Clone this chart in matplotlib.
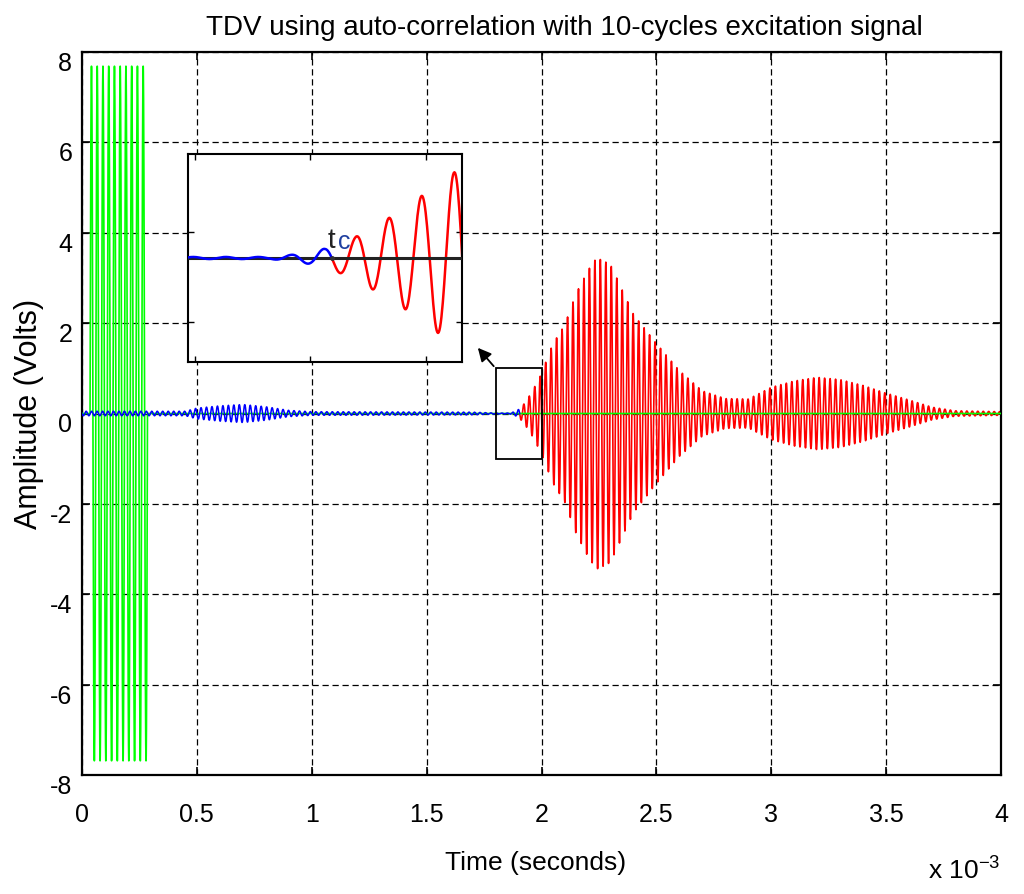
import numpy as np
import matplotlib.pyplot as plt
from matplotlib.patches import Rectangle

plt.rcParams['font.family'] = ['Liberation Sans', 'DejaVu Sans']
plt.rcParams['mathtext.fontset'] = 'custom'
plt.rcParams['mathtext.rm'] = 'Liberation Sans'
plt.rcParams['mathtext.it'] = 'Liberation Sans:italic'
plt.rcParams['axes.unicode_minus'] = False

# excitation burst (green): 10 cycles
exc_freq = 40e3          # Hz
exc_start = 0.035        # ms
exc_cycles = 10
exc_amp = 7.7            # V

# received signal: carrier + envelope (ms, V)
rx_freq = 42e3           # Hz
rx_crest = 1.899         # ms, crest just before tc
tc = 1.905               # ms, blue -> red switch
env_t = [0.0, 0.45, 0.5, 0.6, 0.7, 0.8, 0.9, 1.0, 1.7, 1.8, 1.86, 1.875, 1.89, 1.9,
         1.91, 1.922, 1.933, 1.945, 1.957, 1.968, 1.98, 1.994, 2.05, 2.1, 2.15,
         2.2, 2.24, 2.3, 2.4, 2.5, 2.6, 2.7, 2.8, 2.9, 3.0, 3.1, 3.2, 3.3, 3.4,
         3.5, 3.6, 3.7, 3.8, 4.0]
env_a = [0.05, 0.05, 0.12, 0.17, 0.2, 0.15, 0.07, 0.04, 0.03, 0.01, 0.01, 0.03, 0.06, 0.09,
         0.14, 0.2, 0.29, 0.37, 0.48, 0.57, 0.7, 0.82, 1.55, 1.95, 2.65,
         3.15, 3.45, 3.3, 2.2, 1.55, 0.95, 0.5, 0.33, 0.32, 0.58, 0.72, 0.8, 0.75, 0.62,
         0.45, 0.3, 0.14, 0.06, 0.04]

x_ticks = [0, 0.5, 1, 1.5, 2, 2.5, 3, 3.5, 4]
x_tick_labels = ['0', '0.5', '1', '1.5', '2', '2.5', '3', '3.5', '4']
y_ticks = [-8, -6, -4, -2, 0, 2, 4, 6, 8]

zoom_box = (1.8, 2.0, -1.0, 1.0)   # t0, t1, v0, v1
arrow_head = (1.715, 1.5)

# sample the signals (time in ms)
t = np.arange(0, 4.0005, 0.0005)
ts = t * 1e-3
burst = (t >= exc_start) & (t <= exc_start + exc_cycles / exc_freq * 1e3)
green = np.where(burst, exc_amp * np.sin(2 * np.pi * exc_freq * (ts - exc_start * 1e-3)), 0.0)
env = np.interp(t, env_t, env_a)
rx = env * np.cos(2 * np.pi * rx_freq * (ts - rx_crest * 1e-3))
pre = t <= tc
post = t >= tc

fig = plt.figure(figsize=(10.24, 8.94), dpi=100)
ax = fig.add_axes([82 / 1024, 1 - 775 / 894, 919 / 1024, 723 / 894])

ax.plot(t[post], rx[post], color='#ff0000', lw=1.2, zorder=2)
ax.plot(t, green, color='#00ff00', lw=1.2, zorder=3)
ax.plot(t[pre], rx[pre], color='#0000ff', lw=1.1, zorder=4)

ax.set_xlim(0, 4)
ax.set_ylim(-8, 8)
ax.set_xticks(x_ticks)
ax.set_xticklabels(x_tick_labels)
ax.set_yticks(y_ticks)
ax.grid(True, color='k', linestyle=(0, (5, 3)), linewidth=0.9)
ax.set_axisbelow(True)
ax.tick_params(direction='in', top=True, right=True, length=6, width=1.2,
               labelsize=18)
ax.tick_params(axis='x', pad=20)
ax.tick_params(axis='y', pad=7)
for lab in ax.get_yticklabels():
    lab.set_va('top')
for s in ax.spines.values():
    s.set_linewidth(1.6)

ax.set_title('TDV using auto-correlation with 10-cycles excitation signal',
             fontsize=20, pad=12, x=0.525)
ax.set_xlabel('Time (seconds)', fontsize=19, labelpad=15)
ax.xaxis.set_label_coords(0.494, -0.105)
ax.set_ylabel('Amplitude (Volts)', fontsize=22, labelpad=4)
fig.text(928 / 1024, 1 - 880 / 894, 'x 10$^{-3}$', fontsize=19, ha='left', va='baseline')

x0, x1, y0, y1 = zoom_box
ax.add_patch(Rectangle((x0, y0), x1 - x0, y1 - y0, fill=False, ec='k', lw=1.3, zorder=5))
ax.annotate('', xy=arrow_head, xytext=(x0, y1),
            arrowprops=dict(arrowstyle='-|>', color='k', lw=1.3, mutation_scale=20),
            zorder=6)

# inset: zoom on the onset of the reflected wave
axi = fig.add_axes([188 / 1024, 1 - 362 / 894, 274 / 1024, 208 / 894])
axi.plot(t[post], rx[post], color='#ff0000', lw=1.8, zorder=2)
axi.axhline(0, color='#222222', lw=2.2, zorder=3)
axi.plot(t[pre], rx[pre], color='#0000ff', lw=1.8, zorder=4)
axi.plot([tc], [np.interp(tc, t, rx)], 'o', color='#333333', ms=2.5, zorder=5)
axi.set_xlim(x0, x1)
axi.set_ylim(y0, y1)
axi.set_xticks([1.805, 1.889, 1.974])
axi.set_yticks([0.25, -0.615])
axi.tick_params(direction='in', top=True, right=True, length=4, width=1,
                labelbottom=False, labelleft=False)
for s in axi.spines.values():
    s.set_linewidth(1.5)
axi.text(0.51, 0.548, 't', transform=axi.transAxes, fontsize=20, color='#222222',
         ha='left', va='baseline')
axi.text(0.548, 0.545, 'c', transform=axi.transAxes, fontsize=18, color='#2040a0',
         ha='left', va='baseline')

fig.savefig('out.png', dpi=100)
